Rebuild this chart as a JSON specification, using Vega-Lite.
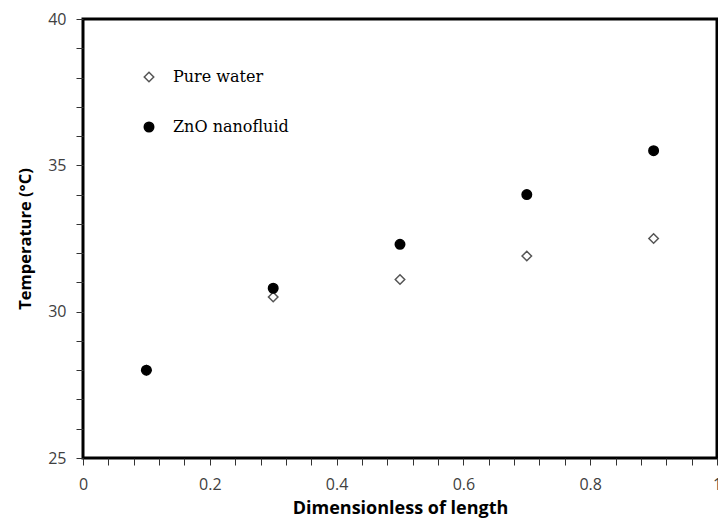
{
  "$schema": "https://vega.github.io/schema/vega-lite/v6.json",
  "width": 634,
  "height": 439,
  "autosize": {"type": "none"},
  "padding": {"left": 83, "top": 19, "right": 1, "bottom": 63},
  "background": "white",
  "config": {
    "view": {"stroke": "black", "strokeWidth": 3},
    "axis": {
      "grid": false,
      "domain": false,
      "ticks": true,
      "tickColor": "#333",
      "tickWidth": 1,
      "tickSize": 7,
      "labelFont": "Open Sans",
      "labelFontSize": 16,
      "labelColor": "#404040",
      "titleFont": "Open Sans",
      "titleFontWeight": "bold",
      "titleColor": "black"
    }
  },
  "data": {
    "values": [
      {"x": 0.1, "temp": 28.0, "series": "Pure water"},
      {"x": 0.3, "temp": 30.5, "series": "Pure water"},
      {"x": 0.5, "temp": 31.1, "series": "Pure water"},
      {"x": 0.7, "temp": 31.9, "series": "Pure water"},
      {"x": 0.9, "temp": 32.5, "series": "Pure water"},
      {"x": 0.1, "temp": 28.0, "series": "ZnO nanofluid"},
      {"x": 0.3, "temp": 30.8, "series": "ZnO nanofluid"},
      {"x": 0.5, "temp": 32.3, "series": "ZnO nanofluid"},
      {"x": 0.7, "temp": 34.0, "series": "ZnO nanofluid"},
      {"x": 0.9, "temp": 35.5, "series": "ZnO nanofluid"}
    ]
  },
  "mark": {"type": "point", "filled": false, "strokeWidth": 1.5, "opacity": 1, "size": 90},
  "encoding": {
    "x": {
      "field": "x",
      "type": "quantitative",
      "scale": {"domain": [0, 1], "nice": false, "zero": false},
      "axis": {
        "title": "Dimensionless of length",
        "titleFontSize": 18,
        "values": [0, 0.04, 0.08, 0.12, 0.16, 0.2, 0.24, 0.28, 0.32, 0.36, 0.4, 0.44, 0.48, 0.52, 0.56, 0.6, 0.64, 0.68, 0.72, 0.76, 0.8, 0.84, 0.88, 0.92, 0.96, 1],
        "format": ".1~f",
        "labelExpr": "abs(datum.value*5 - round(datum.value*5)) < 0.001 ? datum.label : ''",
        "labelPadding": 11,
        "titlePadding": 7,
        "labelFlush": false,
        "labelOverlap": false
      }
    },
    "y": {
      "field": "temp",
      "type": "quantitative",
      "scale": {"domain": [25, 40], "nice": false, "zero": false},
      "axis": {
        "title": "Temperature (°C)",
        "titleFontSize": 16.5,
        "values": [25, 26, 27, 28, 29, 30, 31, 32, 33, 34, 35, 36, 37, 38, 39, 40],
        "labelExpr": "datum.value % 5 == 0 ? datum.label : ''",
        "labelPadding": 10,
        "titlePadding": 14,
        "labelOverlap": false
      }
    },
    "shape": {
      "field": "series",
      "type": "nominal",
      "scale": {"domain": ["Pure water", "ZnO nanofluid"], "range": ["diamond", "circle"]},
      "legend": {
        "title": null,
        "orient": "none",
        "legendX": 58,
        "legendY": 50,
        "labelFont": "DejaVu Serif",
        "labelFontSize": 16,
        "labelColor": "black",
        "labelOffset": 16,
        "rowPadding": 34,
        "padding": 0,
        "symbolSize": 90,
        "symbolStrokeWidth": 1.5
      }
    },
    "fill": {
      "field": "series",
      "type": "nominal",
      "scale": {"domain": ["Pure water", "ZnO nanofluid"], "range": ["white", "black"]}
    },
    "stroke": {
      "field": "series",
      "type": "nominal",
      "scale": {"domain": ["Pure water", "ZnO nanofluid"], "range": ["#555555", "black"]}
    }
  }
}
